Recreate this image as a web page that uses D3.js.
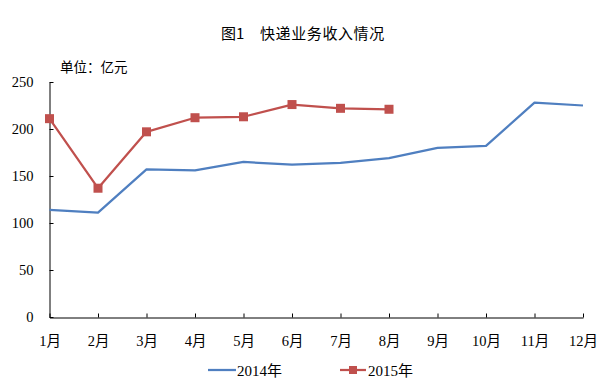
<!DOCTYPE html>
<html><head><meta charset="utf-8">
<script src="https://cdn.jsdelivr.net/npm/d3@7/dist/d3.min.js"></script>
<style>body{margin:0;background:#fff}</style>
</head><body><svg id="c" width="610" height="387"></svg>
<script>
const months = ["1月","2月","3月","4月","5月","6月","7月","8月","9月","10月","11月","12月"];
const series2014 = [114,111,157,156,165,162,164,169,180,182,228,225];
const series2015 = [211,137,197,212,213,226,222,221];
const yTicks = [0,50,100,150,200,250];
const seriesNames = ["2014年","2015年"];
const colors = ["#4f7fc0","#c0504d"];

const svg = d3.select("#c");
const numFont = "'Liberation Serif','Times New Roman',serif";
const mixFont = "'Liberation Serif','Noto Sans CJK SC',serif";
const sansFont = "'Noto Sans CJK SC','Noto Sans',sans-serif";

const x = d3.scalePoint().domain(months).range([49.5, 583]);
const y = d3.scaleLinear().domain([0,250]).range([317, 82]);

const title = svg.append("text").attr("y",38.5)
  .style("font-family",sansFont).style("font-size","15px");
title.append("tspan").attr("x",221).text("图1");
title.append("tspan").attr("x",260).style("letter-spacing","0.6px").text("快递业务收入情况");

svg.append("text").attr("x",60).attr("y",72)
  .style("font-family",sansFont).style("font-size","13.5px").text("单位：亿元");

const yAxis = svg.append("g").attr("transform","translate(49.5,0)")
  .call(d3.axisLeft(y).tickValues(yTicks).tickSizeInner(-4).tickSizeOuter(0).tickPadding(16));
yAxis.select(".domain").attr("stroke","#000");
yAxis.selectAll("text").style("font-family",numFont).style("font-size","14.5px").attr("fill","#000");

const xAxis = svg.append("g").attr("transform","translate(0,317.5)")
  .call(d3.axisBottom(x).tickSizeInner(-4).tickSizeOuter(0).tickPadding(18));
xAxis.select(".domain").attr("stroke","#000");
xAxis.selectAll("text").style("font-family",mixFont).style("font-size","14.5px").attr("fill","#000");

const line = d3.line().x((d,i)=>x(months[i])).y(d=>y(d));
svg.append("path").datum(series2014).attr("d",line).attr("fill","none")
  .attr("stroke",colors[0]).attr("stroke-width",2.25).attr("stroke-linejoin","round");
svg.append("path").datum(series2015).attr("d",line).attr("fill","none")
  .attr("stroke",colors[1]).attr("stroke-width",2.25).attr("stroke-linejoin","round");
svg.selectAll("rect.m").data(series2015).enter().append("rect").attr("class","m")
  .attr("x",(d,i)=>x(months[i])-4.5).attr("y",d=>y(d)-4.5).attr("width",9).attr("height",9)
  .attr("fill",colors[1]);

// legend
const lg = svg.append("g");
lg.append("line").attr("x1",208).attr("x2",236).attr("y1",370).attr("y2",370)
  .attr("stroke",colors[0]).attr("stroke-width",2.25);
lg.append("text").attr("x",237).attr("y",376).style("font-family",mixFont).style("font-size","15px").text(seriesNames[0]);
lg.append("line").attr("x1",340).attr("x2",366).attr("y1",370).attr("y2",370)
  .attr("stroke",colors[1]).attr("stroke-width",2.25);
lg.append("rect").attr("x",349).attr("y",366).attr("width",8).attr("height",8).attr("fill",colors[1]);
lg.append("text").attr("x",368).attr("y",376).style("font-family",mixFont).style("font-size","15px").text(seriesNames[1]);
</script></body></html>
